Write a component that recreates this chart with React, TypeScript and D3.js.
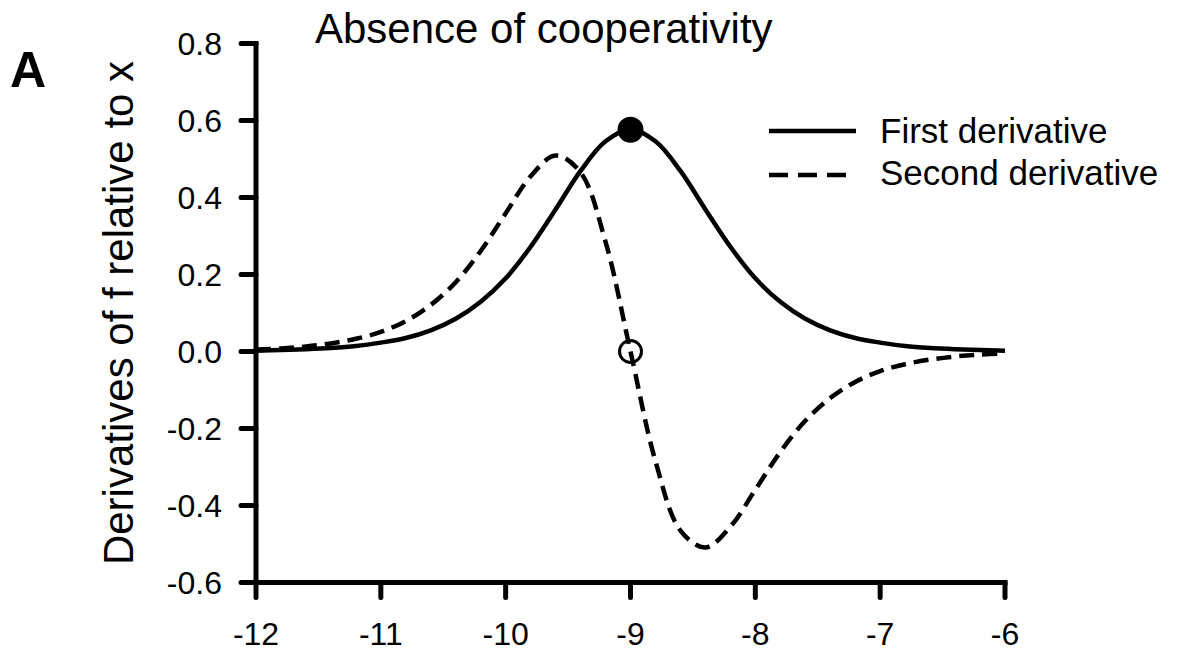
import React from "react";
import * as d3 from "d3";

const xValues = [-12, -11.8, -11.6, -11.4, -11.2, -11, -10.8, -10.6, -10.4, -10.2, -10, -9.8, -9.6, -9.4, -9.2, -9, -8.8, -8.6, -8.4, -8.2, -8, -7.8, -7.6, -7.4, -7.2, -7, -6.8, -6.6, -6.4, -6.2, -6];
const firstDerivative = [0.002, 0.004, 0.006, 0.009, 0.014, 0.023, 0.035, 0.055, 0.085, 0.129, 0.19, 0.272, 0.369, 0.469, 0.546, 0.576, 0.546, 0.469, 0.369, 0.272, 0.19, 0.129, 0.085, 0.055, 0.035, 0.023, 0.014, 0.009, 0.006, 0.004, 0.002];
const secondDerivative = [0.005, 0.008, 0.013, 0.021, 0.033, 0.051, 0.079, 0.121, 0.18, 0.261, 0.359, 0.455, 0.509, 0.465, 0.285, 0, -0.285, -0.465, -0.509, -0.455, -0.359, -0.261, -0.18, -0.121, -0.079, -0.051, -0.033, -0.021, -0.013, -0.008, -0.005];
const markerX = [-9, -9];
const markerY = [0.576, 0];
const markerFilled = [true, false];
const xTicks = [-12, -11, -10, -9, -8, -7, -6];
const yTicks = [-0.6, -0.4, -0.2, 0, 0.2, 0.4, 0.6, 0.8];
const legendLabels = ["First derivative", "Second derivative"];
const titleText = "Absence of cooperativity";
const yLabelText = "Derivatives of f relative to x";
const panelLabel = "A";

const W = 1177;
const H = 652;
const FONT = "'Liberation Sans', Arial, Helvetica, sans-serif";

export default function App() {
  const x = d3.scaleLinear().domain([-12, -6]).range([256, 1005]);
  const y = d3.scaleLinear().domain([-0.6, 0.8]).range([582.5, 43.5]);

  const line = (vals: number[]) =>
    d3
      .line<number>()
      .x((_, i) => x(xValues[i]))
      .y((d) => y(d))
      .curve(d3.curveCatmullRom.alpha(0.5))(vals) as string;

  const fmtY = (v: number) => v.toFixed(1).replace("\u2212", "-");
  const fmtX = (v: number) => String(v);

  const axisW = 5;
  const curveW = 4.5;
  const tick = 15;

  return (
    <svg
      width={W}
      height={H}
      style={{ position: "absolute", left: 0, top: 0, background: "#fff" }}
      fontFamily={FONT}
    >
      <rect x={0} y={0} width={W} height={H} fill="#fff" />
      {/* panel label */}
      <text x={10} y={87} fontSize={50} fontWeight="bold" fill="#000">
        {panelLabel}
      </text>
      {/* title */}
      <text x={315} y={43} fontSize={42} fill="#000">
        {titleText}
      </text>
      {/* y label */}
      <text
        transform={`translate(133, ${(y(0.8) + y(-0.6)) / 2}) rotate(-90)`}
        textAnchor="middle"
        fontSize={42}
        fill="#000"
      >
        {yLabelText}
      </text>

      {/* curves */}
      <path d={line(firstDerivative)} fill="none" stroke="#000" strokeWidth={curveW} />
      <path
        d={line(secondDerivative)}
        fill="none"
        stroke="#000"
        strokeWidth={curveW}
        strokeDasharray="15 8"
      />

      {/* markers */}
      {markerX.map((mx, i) =>
        markerFilled[i] ? (
          <circle key={i} cx={x(mx)} cy={y(markerY[i])} r={13} fill="#000" />
        ) : (
          <circle
            key={i}
            cx={x(mx)}
            cy={y(markerY[i])}
            r={11}
            fill="none"
            stroke="#000"
            strokeWidth={3}
          />
        )
      )}

      {/* y axis */}
      <line
        x1={x(-12)}
        x2={x(-12)}
        y1={y(0.8)}
        y2={y(-0.6)}
        stroke="#000"
        strokeWidth={axisW}
        strokeLinecap="square"
      />
      {yTicks.map((v) => (
        <g key={v}>
          <line
            x1={x(-12) - tick}
            x2={x(-12)}
            y1={y(v)}
            y2={y(v)}
            stroke="#000"
            strokeWidth={axisW}
            strokeLinecap="round"
          />
          <text x={222} y={y(v) + 11.5} textAnchor="end" fontSize={32} fill="#000">
            {fmtY(v)}
          </text>
        </g>
      ))}

      {/* x axis */}
      <line
        x1={x(-12)}
        x2={x(-6)}
        y1={y(-0.6)}
        y2={y(-0.6)}
        stroke="#000"
        strokeWidth={axisW}
        strokeLinecap="square"
      />
      {xTicks.map((v) => (
        <g key={v}>
          <line
            x1={x(v)}
            x2={x(v)}
            y1={y(-0.6)}
            y2={y(-0.6) + tick}
            stroke="#000"
            strokeWidth={axisW}
            strokeLinecap="round"
          />
          <text x={x(v)} y={645} textAnchor="middle" fontSize={32} fill="#000">
            {fmtX(v)}
          </text>
        </g>
      ))}

      {/* legend */}
      <line x1={769} x2={856} y1={131} y2={131} stroke="#000" strokeWidth={curveW} />
      <text x={880} y={143} fontSize={35} fill="#000">
        {legendLabels[0]}
      </text>
      <line
        x1={769}
        x2={856}
        y1={175}
        y2={175}
        stroke="#000"
        strokeWidth={curveW}
        strokeDasharray="19 10"
      />
      <text x={880} y={185} fontSize={35} fill="#000">
        {legendLabels[1]}
      </text>
    </svg>
  );
}
